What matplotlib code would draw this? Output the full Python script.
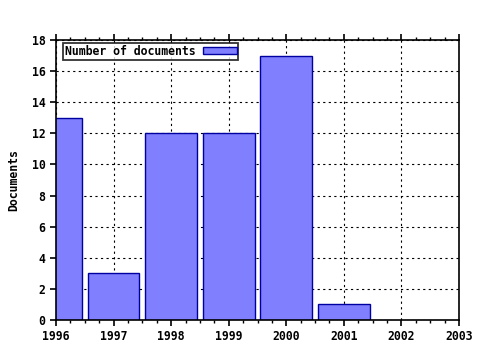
import matplotlib
matplotlib.use("Agg")
import matplotlib.pyplot as plt
from matplotlib.ticker import MultipleLocator

years = [1996, 1997, 1998, 1999, 2000, 2001]
docs = [13, 3, 12, 12, 17, 1]
xticks = [1996, 1997, 1998, 1999, 2000, 2001, 2002, 2003]
yticks = [0, 2, 4, 6, 8, 10, 12, 14, 16, 18]

plt.rcParams['font.family'] = ['DejaVu Sans Mono']
plt.rcParams['font.weight'] = 'bold'

fig = plt.figure(figsize=(4.8, 3.5), dpi=100)
ax = fig.add_axes([56/480, 1 - 320/350, (459-56)/480, (320-40)/350])

ax.bar(years, docs, width=0.9, color='#8080ff', edgecolor='#0000a0',
       linewidth=1, label='Number of documents', zorder=2)

ax.set_xlim(1996, 2003)
ax.set_ylim(0, 18)
ax.set_xticks(xticks)
ax.set_yticks(yticks)
ax.xaxis.set_minor_locator(MultipleLocator(0.25))
ax.tick_params(axis='both', which='major', direction='out', length=4, width=1.2,
               labelsize=8.3, top=True, right=False, colors='black')
ax.tick_params(axis='x', which='minor', direction='out', length=2, width=1, top=True)
for lab in ax.get_xticklabels() + ax.get_yticklabels():
    lab.set_fontweight('bold')
ax.grid(True, which='major', linestyle=(0, (2, 3)), color='black', linewidth=0.8, zorder=1)
ax.set_axisbelow(True)
for s in ax.spines.values():
    s.set_linewidth(1.2)
    s.set_color('black')

ax.set_ylabel('Documents', fontsize=8.3, fontweight='bold', labelpad=8)

leg = ax.legend(loc='upper left', bbox_to_anchor=(0.017, 0.989), borderaxespad=0,
                markerfirst=False, frameon=True,
                fancybox=False, borderpad=0.15, handlelength=2.9, handleheight=0.6,
                handletextpad=0.7, prop={'weight': 'bold', 'size': 8.3})
leg.get_frame().set_edgecolor('black')
leg.get_frame().set_linewidth(1.3)

fig.savefig('out.png', dpi=100)
